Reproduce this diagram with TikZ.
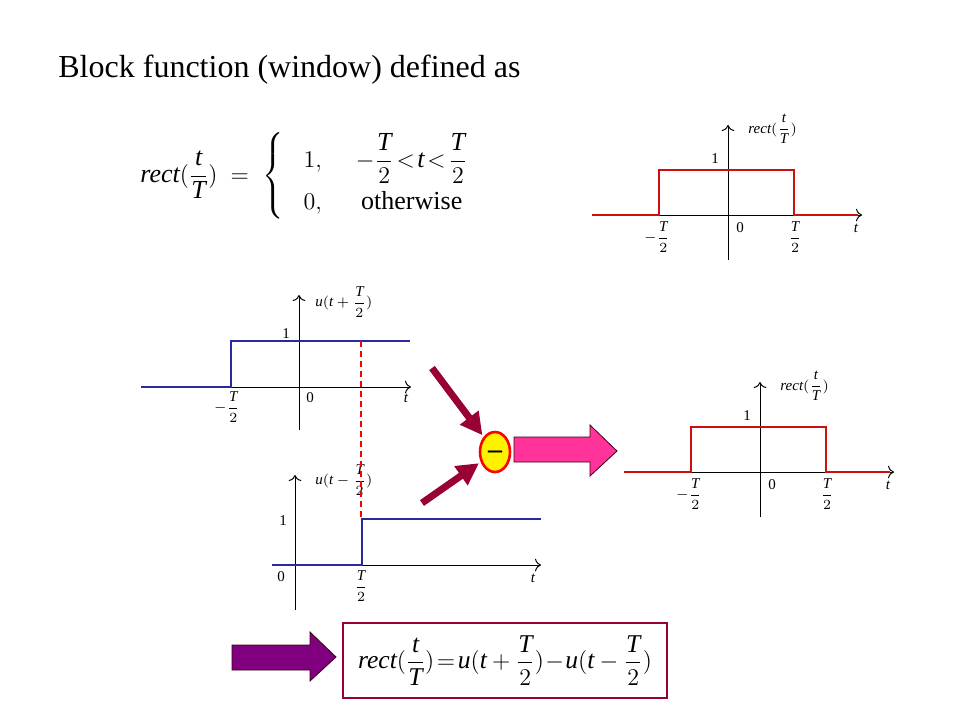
\documentclass[tikz,border=0pt]{standalone}
\usepackage{amsmath}
\usepackage{fontspec}
\setmainfont{Liberation Serif}
\usetikzlibrary{arrows.meta, shapes.geometric}

\definecolor{pulsered}{HTML}{CC1010}
\definecolor{stepblue}{HTML}{2A2AA0}
\definecolor{feedred}{HTML}{990033}
\definecolor{hotpink}{HTML}{FF3399}
\definecolor{deeppurple}{HTML}{800080}

% italic letters and fractions set in the text font
\newcommand{\vt}{\text{\itshape t}}
\newcommand{\vT}{\text{\itshape T}}
\newcommand{\vu}{\text{\itshape u}}
\newcommand{\frc}[2]{\genfrac{}{}{0.4pt}{0}{#1}{#2}}

\begin{document}
\begin{tikzpicture}[
		x=0.5pt, y=-0.5pt,
		axis/.style={draw=black, line width=0.5pt, -{To[length=3pt]}},
		rectsig/.style={draw=pulsered, line width=0.6pt},
		stepsig/.style={draw=stepblue, line width=0.8pt},
		lbl/.style={inner sep=0pt, font=\fontsize{7.5}{8.5}\selectfont},
		feed/.style={draw=feedred, line width=3.5pt, -{Triangle[length=11pt, width=11pt]}, shorten >=1pt},
		minusnode/.style={ellipse, draw=red, fill=yellow, line width=1.3pt, minimum width=15pt, minimum height=20pt, inner sep=0pt, text height=6.4pt, text depth=0pt},
		blockarrow/.style={draw=black!70!purple, line width=0.4pt}
		]
		\useasboundingbox (0,0) rectangle (960,720);
		
		% Title and definition
		\node[anchor=base west, inner sep=0pt, font=\fontsize{16}{19}\selectfont] (title) at (58,77) {Block function (window) defined as};
		\node[anchor=west, inner sep=0pt, font=\fontsize{13}{15}\selectfont] (defn) at (140,176)
			{$\text{\itshape rect}(\frc{\vt}{\vT})\;=\;\left\{\begin{array}{@{\hspace{10pt}}l@{\hspace{17pt}}c}
				1, & -\frc{\vT}{2}\!<\!\vt\!<\!\frc{\vT}{2}\\[6pt]
				0, & \text{otherwise}\end{array}\right.$};
		
		% Rectangular pulses (top right and result)
		\foreach \g/\ox/\oy in {top/728/215, res/760/472}{
			\begin{scope}[shift={(\ox,\oy)}]
				\draw[axis] (-136,0) -- (134,0);
				\draw[axis] (0,45) -- (0,-90);
				\draw[rectsig] (-136,0) -- (-69,0) -- (-69,-45) -- (66,-45) -- (66,0) -- (130,0);
				\node[lbl] (\g one) at (-13,-56) {1};
				\node[lbl] (\g zero) at (12,13) {0};
				\node[lbl] (\g lo) at (-71,22) {$-\frc{\vT}{2}$};
				\node[lbl] (\g hi) at (67,22) {$\frc{\vT}{2}$};
				\node[lbl] (\g t) at (128,13) {\itshape t};
				\node[lbl, anchor=west] (\g name) at (20,-86) {$\text{\itshape rect}(\frc{\vt}{\vT})$};
			\end{scope}
		}
		
		% Step shifted left
		\draw[axis] (141,387) -- (411,387);
		\draw[axis] (299,430) -- (299,295);
		\draw[stepsig] (141,387) -- (231,387) -- (231,341) -- (410,341);
		\node[lbl] (leftone) at (286,334) {1};
		\node[lbl] (leftzero) at (310,398) {0};
		\node[lbl] (leftlo) at (227,407) {$-\frc{\vT}{2}$};
		\node[lbl] (leftt) at (406,398) {\itshape t};
		\node[lbl, anchor=west] (leftname) at (315,302) {$\vu(\vt+\frc{\vT}{2})$};
		
		% Step shifted right
		\draw[axis] (272,565) -- (541,565);
		\draw[axis] (295,610) -- (295,475);
		\draw[stepsig] (272,565) -- (362,565) -- (362,519) -- (541,519);
		\node[lbl] (rightone) at (283,521) {1};
		\node[lbl] (rightzero) at (281,577) {0};
		\node[lbl] (righthi) at (361,586) {$\frc{\vT}{2}$};
		\node[lbl] (rightt) at (533,578) {\itshape t};
		\node[lbl, anchor=west] (rightname) at (315,480) {$\vu(\vt-\frc{\vT}{2})$};
		
		% Dashed marker at t = T/2
		\coordinate (marktop) at (361,341);
		\coordinate (markbot) at (361,517);
		\draw[red, line width=0.6pt, dash pattern=on 3pt off 2pt] (marktop) -- (markbot);
		
		% Subtraction
		\node[minusnode] (minus) at (495,452) {\bfseries\fontsize{14}{14}\selectfont --};
		\coordinate (fromleft) at (432,368);
		\coordinate (fromright) at (422,503);
		\draw[feed] (fromleft) -- (minus);
		\draw[feed] (fromright) -- (minus);
		\draw[blockarrow, fill=hotpink] (514,437) -- (590,437) -- (590,425) -- (617,451) -- (590,476) -- (590,462) -- (514,462) -- cycle;
		
		% Result formula
		\draw[blockarrow, fill=deeppurple] (232,645) -- (310,645) -- (310,632) -- (336,657) -- (310,681) -- (310,670) -- (232,670) -- cycle;
		\node[draw=feedred, line width=1pt, minimum width=162pt, minimum height=37.5pt, inner sep=0pt, font=\fontsize{12.8}{15}\selectfont] (result) at (505,660.5)
			{$\text{\itshape rect}(\frc{\vt}{\vT})\!=\!\vu(\vt+\frc{\vT}{2})\!-\!\vu(\vt-\frc{\vT}{2})$};
		
	\end{tikzpicture}
\end{document}
